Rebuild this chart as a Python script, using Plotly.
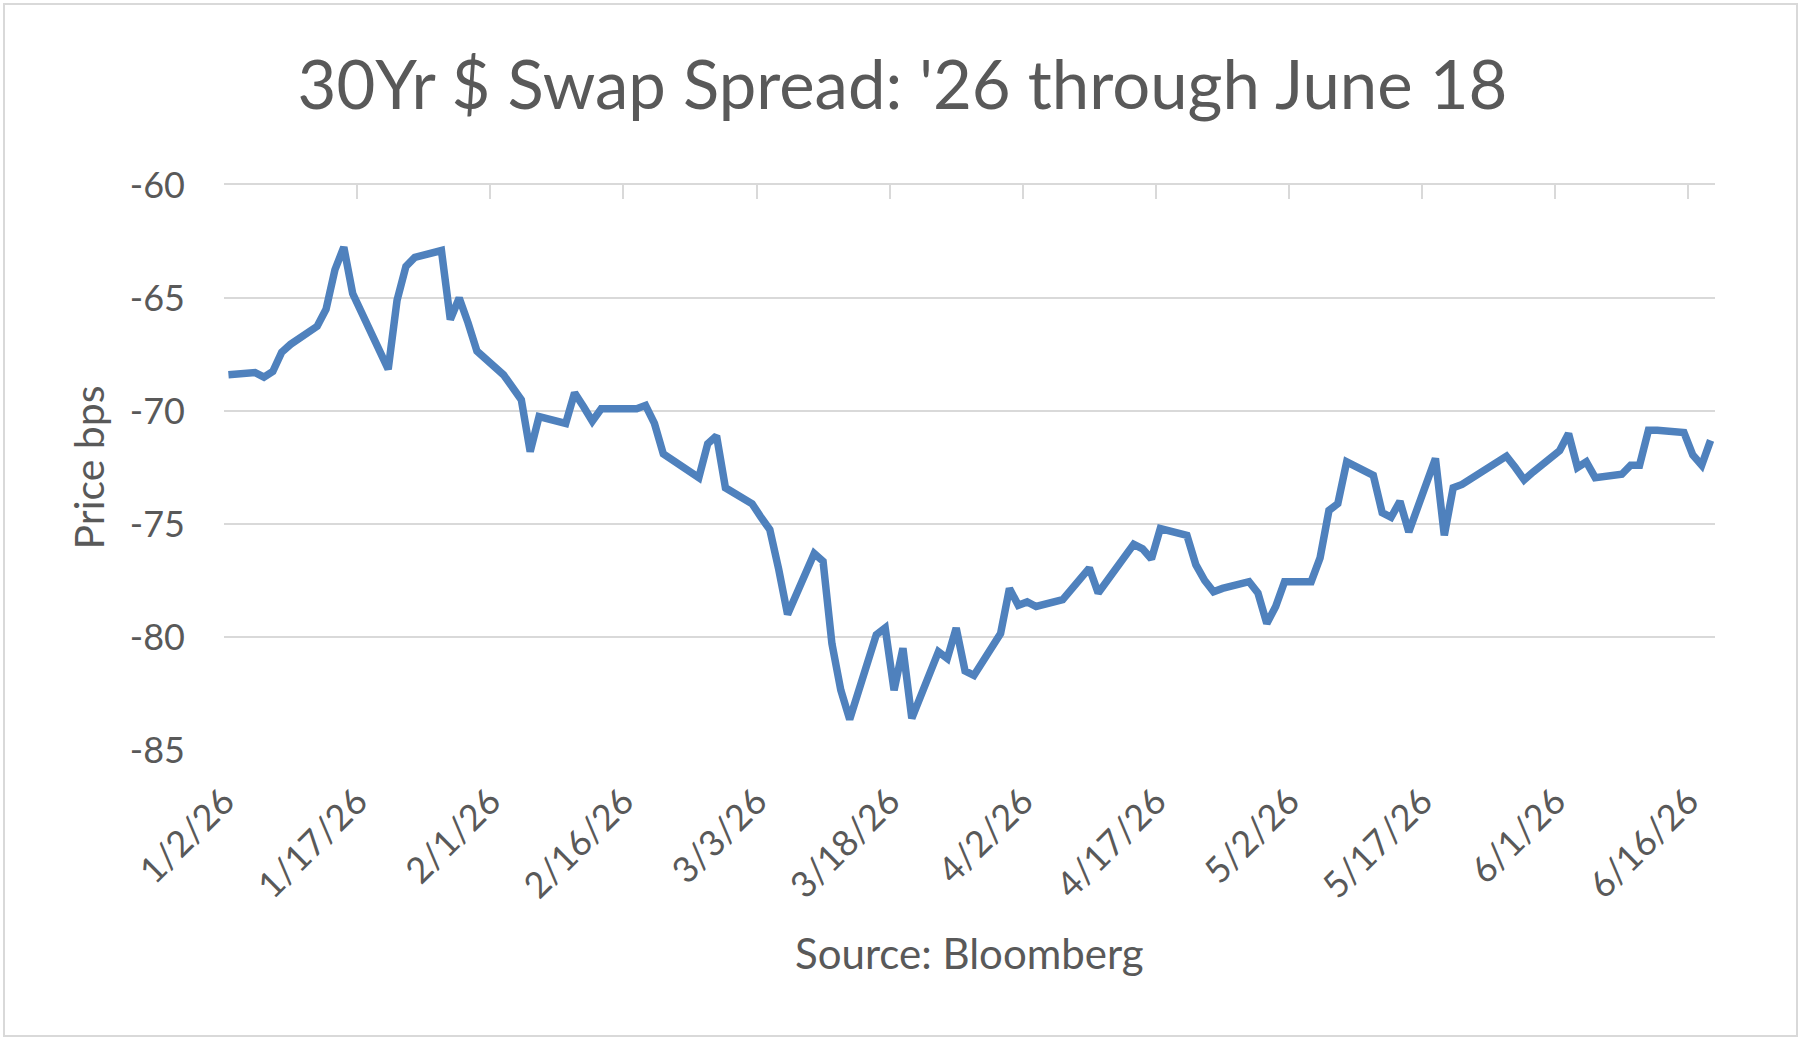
import pandas as pd
import plotly.graph_objects as go

# ---- data ----
dates = [
    "2026-01-02", "2026-01-05", "2026-01-06", "2026-01-07", "2026-01-08", "2026-01-09",
    "2026-01-12", "2026-01-13", "2026-01-14", "2026-01-15", "2026-01-16",
    "2026-01-20", "2026-01-21", "2026-01-22", "2026-01-23",
    "2026-01-26", "2026-01-27", "2026-01-28", "2026-01-29", "2026-01-30",
    "2026-02-02", "2026-02-03", "2026-02-04", "2026-02-05", "2026-02-06",
    "2026-02-09", "2026-02-10", "2026-02-11", "2026-02-12", "2026-02-13",
    "2026-02-17", "2026-02-18", "2026-02-19", "2026-02-20",
    "2026-02-23", "2026-02-24", "2026-02-25", "2026-02-26", "2026-02-27",
    "2026-03-02", "2026-03-03", "2026-03-04", "2026-03-05", "2026-03-06",
    "2026-03-09", "2026-03-10", "2026-03-11", "2026-03-12", "2026-03-13",
    "2026-03-16", "2026-03-17", "2026-03-18", "2026-03-19", "2026-03-20",
    "2026-03-23", "2026-03-24", "2026-03-25", "2026-03-26", "2026-03-27",
    "2026-03-30", "2026-03-31", "2026-04-01", "2026-04-02", "2026-04-03",
    "2026-04-06", "2026-04-07", "2026-04-08", "2026-04-09", "2026-04-10",
    "2026-04-13", "2026-04-14", "2026-04-15", "2026-04-16", "2026-04-17",
    "2026-04-20", "2026-04-21", "2026-04-22", "2026-04-23", "2026-04-24",
    "2026-04-27", "2026-04-28", "2026-04-29", "2026-04-30", "2026-05-01",
    "2026-05-04", "2026-05-05", "2026-05-06", "2026-05-07", "2026-05-08",
    "2026-05-11", "2026-05-12", "2026-05-13", "2026-05-14", "2026-05-15",
    "2026-05-18", "2026-05-19", "2026-05-20", "2026-05-21", "2026-05-22",
    "2026-05-26", "2026-05-27", "2026-05-28", "2026-05-29",
    "2026-06-01", "2026-06-02", "2026-06-03", "2026-06-04", "2026-06-05",
    "2026-06-08", "2026-06-09", "2026-06-10", "2026-06-11", "2026-06-12",
    "2026-06-15", "2026-06-16", "2026-06-17", "2026-06-18",
]
spread_bps = [
    -68.4, -68.3, -68.5, -68.25, -67.4, -67.05,
    -66.25, -65.5, -63.75, -62.75, -64.8,
    -68.15, -65.1, -63.6, -63.2,
    -62.9, -65.95, -65.0, -66.1, -67.35,
    -68.4, -69.0, -69.5, -71.8, -70.25,
    -70.55, -69.2, -69.8, -70.45, -69.9,
    -69.9, -69.75, -70.55, -71.9,
    -72.75, -72.95, -71.45, -71.1, -73.4,
    -74.1, -74.7, -75.25, -77.0, -79.0,
    -76.3, -76.65, -80.3, -82.35, -83.65,
    -79.9, -79.6, -82.35, -80.5, -83.6,
    -80.65, -80.95, -79.6, -81.5, -81.7,
    -79.85, -77.85, -78.6, -78.45, -78.65,
    -78.35, -77.9, -77.4, -76.95, -78.05,
    -76.45, -75.9, -76.1, -76.55, -75.2,
    -75.5, -76.8, -77.5, -78.0, -77.85,
    -77.55, -78.05, -79.4, -78.65, -77.55,
    -77.55, -76.5, -74.4, -74.1, -72.25,
    -72.85, -74.5, -74.7, -74.0, -75.35,
    -72.1, -75.5, -73.4, -73.25, -73.0,
    -72.0, -72.5, -73.05, -72.7,
    -71.75, -71.0, -72.5, -72.25, -72.95,
    -72.8, -72.4, -72.4, -70.85, -70.85,
    -70.95, -71.95, -72.4, -71.3,
]
y_ticks = [-85, -80, -75, -70, -65, -60]
y_tick_labels = [str(v) for v in y_ticks]
x_start = "2026-01-02"
x_end = "2026-06-19"

title_text = "30Yr $ Swap Spread: '26 through June 18"
y_title = "Price bps"
x_title = "Source: Bloomberg"

# ---- styling ----
FONT = "Lato"
GREY = "#595959"
GRID = "#D9D9D9"
LINE = "#4F81BD"

# points are centred in each day's slot (Excel "between tick marks")
x_vals = pd.to_datetime(dates) + pd.Timedelta(hours=12)
DAY_MS = 86400000

fig = go.Figure()
fig.add_trace(go.Scatter(
    x=x_vals, y=spread_bps, mode="lines",
    line=dict(color=LINE, width=7.5, shape="linear"),
    hoverinfo="skip", showlegend=False,
))
# invisible trace for the top axis with tick marks
fig.add_trace(go.Scatter(
    x=[x_start, x_end], y=[-60, -60], mode="lines",
    line=dict(width=0), opacity=0, xaxis="x2", hoverinfo="skip", showlegend=False,
))

L, R, T, B = 224, 90, 185, 295
W, H = 1805, 1045
pw, ph = W - L - R, H - T - B

fig.update_layout(
    width=W, height=H,
    margin=dict(l=L, r=R, t=T, b=B, pad=0),
    paper_bgcolor="white", plot_bgcolor="white",
    font=dict(family=FONT, color=GREY, size=36),
    title=dict(text=title_text, x=0.5, xref="container", xanchor="center",
               y=1 - 86 / H, yref="container", yanchor="middle",
               font=dict(family=FONT, size=67, color=GREY)),
    xaxis=dict(
        type="date", range=[x_start, x_end],
        tick0=x_start, dtick=15 * DAY_MS, tickformat="%-m/%-d/%y",
        tickangle=-45, showgrid=False, zeroline=False, showline=False,
        ticks="", tickfont=dict(size=36, color=GREY, family=FONT),
        ticklabelstandoff=22,
    ),
    xaxis2=dict(
        type="date", range=[x_start, x_end], overlaying="x", side="top",
        tick0=x_start, dtick=15 * DAY_MS, ticks="inside", ticklen=14,
        tickwidth=2, tickcolor=GRID, showticklabels=False, showgrid=False,
        showline=True, linecolor=GRID, linewidth=2, zeroline=False,
    ),
    yaxis=dict(
        range=[-85, -60], tickvals=y_ticks, ticktext=y_tick_labels,
        showgrid=True, gridcolor=GRID,
        gridwidth=2, zeroline=False, showline=False, ticks="",
        tickfont=dict(size=36, color=GREY, family=FONT),
        ticklabelstandoff=38,
    ),
    annotations=[
        dict(text=y_title, x=(88 - L) / pw, y=0.5, xref="paper", yref="paper",
             xanchor="center", yanchor="middle", textangle=-90, showarrow=False,
             font=dict(family=FONT, size=41, color=GREY)),
        dict(text=x_title, x=0.5, y=(H - B - 953) / ph, xref="paper", yref="paper",
             xanchor="center", yanchor="middle", showarrow=False,
             font=dict(family=FONT, size=42, color=GREY)),
    ],
    shapes=[
        dict(type="rect", xref="paper", yref="paper",
             x0=(4 - L) / pw, x1=(1797 - L) / pw,
             y0=(H - B - 1036) / ph, y1=(H - B - 4) / ph,
             line=dict(color=GRID, width=2), fillcolor="rgba(0,0,0,0)", layer="below"),
    ],
)

fig.write_html("out.html")
